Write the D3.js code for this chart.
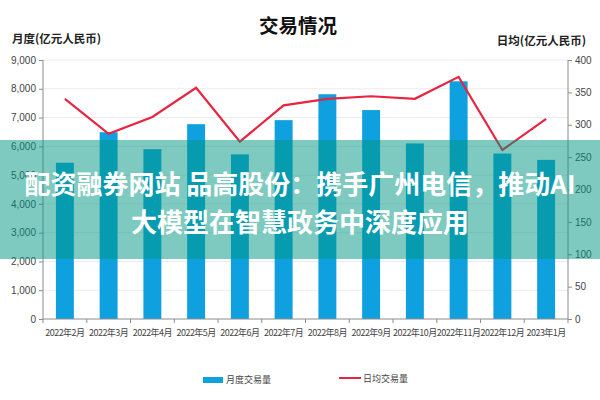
<!DOCTYPE html>
<html>
<head>
<meta charset="utf-8">
<script src="https://cdn.jsdelivr.net/npm/d3@7/dist/d3.min.js"></script>
<style>
  html, body { margin: 0; padding: 0; background: #fff; }
  svg { display: block; font-family: "Noto Sans CJK SC", "Noto Sans", sans-serif; }
</style>
</head>
<body>
<svg id="chart" width="600" height="400"></svg>
<script>
const categories = ["2022年2月","2022年3月","2022年4月","2022年5月","2022年6月","2022年7月","2022年8月","2022年9月","2022年10月","2022年11月","2022年12月","2023年1月"];
const monthlyVolume = [5430, 6490, 5900, 6770, 5720, 6910, 7810, 7260, 6100, 8260, 5750, 5530];
const dailyAverage = [340, 286, 312, 357, 274, 330, 340, 344, 340, 374, 261, 309];
const leftTicks = [0, 1000, 2000, 3000, 4000, 5000, 6000, 7000, 8000, 9000];
const rightTicks = [0, 50, 100, 150, 200, 250, 300, 350, 400];
const titleText = "交易情况";
const leftAxisTitle = "月度(亿元人民币)";
const rightAxisTitle = "日均(亿元人民币)";
const legendLabels = ["月度交易量", "日均交易量"];
const overlayLines = ["配资融券网站 品高股份：携手广州电信，推动AI", "大模型在智慧政务中深度应用"];

const svg = d3.select("#chart");
const m = {left: 43, right: 32, top: 60, bottom: 81};
const W = 600, H = 400;
const x0 = m.left, x1 = W - m.right, yTop = m.top, yBot = H - m.bottom;

const x = d3.scaleBand().domain(categories).range([x0, x1]).paddingInner(0.59).paddingOuter(0.295);
const xb = d3.scaleBand().domain(categories).range([x0, x1]);
const yL = d3.scaleLinear().domain([0, 9000]).range([yBot, yTop]);
const yR = d3.scaleLinear().domain([0, 400]).range([yBot, yTop]);

// gridlines
svg.append("g").selectAll("line").data(leftTicks.slice(1)).join("line")
  .attr("x1", x0).attr("x2", x1)
  .attr("y1", d => yL(d)).attr("y2", d => yL(d))
  .attr("stroke", "#ececec").attr("stroke-width", 1);

// bars
svg.append("g").selectAll("rect").data(monthlyVolume).join("rect")
  .attr("x", (d, i) => x(categories[i]))
  .attr("width", x.bandwidth())
  .attr("y", d => yL(d))
  .attr("height", d => yBot - yL(d))
  .attr("fill", "#0ea0df");

// line
const line = d3.line()
  .x((d, i) => xb(categories[i]) + xb.bandwidth() / 2)
  .y(d => yR(d));
svg.append("path").datum(dailyAverage)
  .attr("d", line)
  .attr("fill", "none")
  .attr("stroke", "#e8243f")
  .attr("stroke-width", 2.2)
  .attr("stroke-linejoin", "miter");

// axes
const axisColor = "#8c8c8c";
const tickFont = "'Liberation Sans Narrow', 'Liberation Sans', 'DejaVu Sans Condensed', sans-serif";

const gL = svg.append("g").attr("transform", `translate(${x0},0)`)
  .call(d3.axisLeft(yL).tickValues(leftTicks).tickFormat(d3.format(",")).tickSize(4).tickPadding(3));
const gR = svg.append("g").attr("transform", `translate(${x1},0)`)
  .call(d3.axisRight(yR).tickValues(rightTicks).tickSize(4).tickPadding(3));
const gX = svg.append("g").attr("transform", `translate(0,${yBot})`)
  .call(d3.axisBottom(xb).tickSize(0).tickPadding(11));

[gL, gR, gX].forEach(g => {
  g.select(".domain").attr("stroke", axisColor);
  g.selectAll(".tick line").attr("stroke", axisColor);
  g.selectAll(".tick text").attr("fill", "#444").style("font-family", tickFont).style("font-size", "10px");
});
gL.select(".domain").attr("d", `M0,${yBot}V${yTop}`);
gR.select(".domain").attr("d", `M0,${yBot}V${yTop}`);
gX.select(".domain").attr("d", `M${x0},0H${x1}`);
gX.selectAll(".tick text").style("font-family", "'Noto Sans CJK SC', sans-serif").style("font-size", "9px").attr("letter-spacing", "-0.5");

// category boundary ticks
svg.append("g").selectAll("line").data(d3.range(categories.length + 1)).join("line")
  .attr("x1", i => x0 + i * xb.step()).attr("x2", i => x0 + i * xb.step())
  .attr("y1", yBot).attr("y2", yBot + 4)
  .attr("stroke", axisColor);

// titles
svg.append("text").attr("x", 298).attr("y", 33).attr("text-anchor", "middle")
  .attr("font-size", 19.5).attr("font-weight", "bold").attr("fill", "#111").text(titleText);
svg.append("text").attr("x", 12).attr("y", 43).attr("text-anchor", "start")
  .attr("font-size", 11.5).attr("font-weight", "bold").attr("fill", "#222").text(leftAxisTitle);
svg.append("text").attr("x", 586).attr("y", 45).attr("text-anchor", "end")
  .attr("font-size", 11.5).attr("font-weight", "bold").attr("fill", "#222").text(rightAxisTitle);

// legend
const lg = svg.append("g");
lg.append("rect").attr("x", 203).attr("y", 377).attr("width", 20).attr("height", 6).attr("fill", "#0ea0df");
lg.append("text").attr("x", 226).attr("y", 383).attr("font-size", 9).attr("fill", "#444").text(legendLabels[0]);
lg.append("line").attr("x1", 339).attr("x2", 361).attr("y1", 378).attr("y2", 378).attr("stroke", "#e8243f").attr("stroke-width", 2);
lg.append("text").attr("x", 363).attr("y", 382).attr("font-size", 9).attr("fill", "#444").text(legendLabels[1]);

// overlay band
svg.append("rect").attr("x", 0).attr("y", 140).attr("width", W).attr("height", 119)
  .attr("fill", "rgb(0,150,130)").attr("fill-opacity", 0.5);
svg.append("text").attr("x", 300).attr("y", 194).attr("text-anchor", "middle")
  .attr("font-size", 26).attr("font-weight", "bold").attr("fill", "#fff").text(overlayLines[0]);
svg.append("text").attr("x", 300).attr("y", 232).attr("text-anchor", "middle")
  .attr("font-size", 26).attr("font-weight", "bold").attr("fill", "#fff").text(overlayLines[1]);
</script>
</body>
</html>
